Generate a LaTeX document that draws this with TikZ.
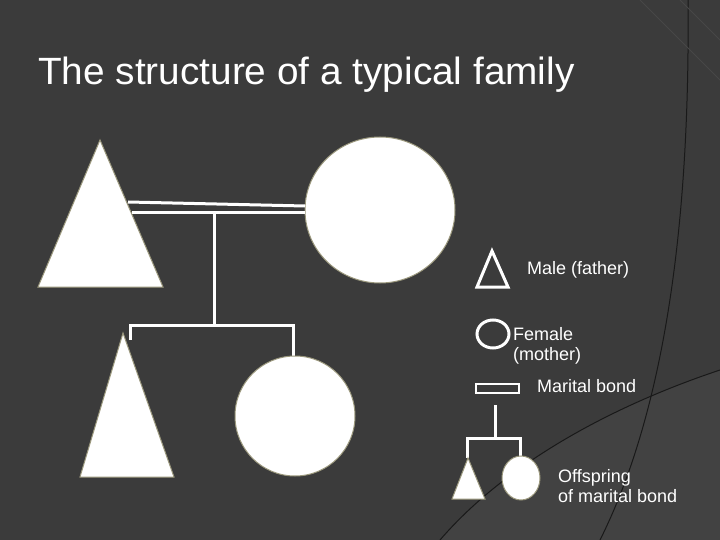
\documentclass[tikz,border=0pt]{standalone}
\usepackage{fontspec}
\setmainfont{Liberation Sans}
\usetikzlibrary{shapes.geometric}
\begin{document}
\begin{tikzpicture}[x=1pt,y=-1pt,
  shp/.style={fill=white,draw=black!35!yellow!30!gray,line width=1pt},
  wline/.style={draw=white,line width=3pt},
  lab/.style={text=white,font=\fontsize{18}{20}\selectfont,anchor=west,inner sep=0pt,align=left}]
\fill[black!77] (0,0) rectangle (720,540);
\useasboundingbox (0,0) rectangle (720,540);
% decorative background arcs
\fill[black!74] (720,370) .. controls (600,410) and (500,470) .. (440,540) -- (720,540) -- cycle;
\draw[black!90,line width=1pt] (688,0) .. controls (690,200) and (670,400) .. (600,540);
\draw[black!90,line width=1pt] (720,370) .. controls (600,410) and (500,470) .. (440,540);
\draw[black!72,line width=1pt] (640,0) -- (720,80);
\draw[black!72,line width=1pt] (680,0) -- (720,40);
% title
\node[text=white,anchor=base west,inner sep=0pt,font=\fontsize{38}{40}\selectfont] (title) at (38,85) {\scalebox{1.02}[1]{The structure of a typical family}};
% parents
\path[shp] (100,140) -- (163,287) -- (38,287) -- cycle;
\node[shp,ellipse,minimum width=150pt,minimum height=146pt,inner sep=0pt] (mother) at (380,210) {};
% marital bond
\coordinate (b1) at (128,202); \coordinate (b2) at (305,206);
\coordinate (b3) at (132,213); \coordinate (b4) at (305,213);
\draw[wline] (b1) -- (b2); \draw[wline] (b3) -- (b4);
\coordinate (m) at (214,213); \coordinate (j) at (214,325);
\coordinate (jl) at (130,325); \coordinate (jr) at (293,325);
\draw[wline] (m) -- (j);
\draw[wline] (130,340) -- (jl) -- (jr) -- (293,356);
% children
\path[shp] (123,333) -- (174,477) -- (80,477) -- cycle;
\node[shp,ellipse,minimum width=120pt,minimum height=120pt,inner sep=0pt] (daughter) at (295,416) {};
% legend
\draw[white,line width=3pt,line join=miter] (492,251) -- (508,287) -- (477,287) -- cycle;
\node[lab] (lm) at (527,270) {Male (father)};
\draw[white,line width=3pt] (493,334) ellipse (16 and 14);
\node[lab] (lf) at (513,346) {Female\\(mother)};
\draw[white,line width=2.5pt] (476,384) rectangle (519,393);
\node[lab] (lb) at (537,386) {Marital bond};
\coordinate (o1) at (495,405); \coordinate (o2) at (495,438);
\draw[wline] (o1) -- (o2);
\draw[wline] (467,458) -- (467,438) -- (520,438) -- (520,458);
\path[shp] (468,458) -- (485,499) -- (452,499) -- cycle;
\node[shp,ellipse,minimum width=38pt,minimum height=44pt,inner sep=0pt] (oc) at (521,478) {};
\node[lab] (lo) at (558,486) {Offspring\\of marital bond};
\end{tikzpicture}
\end{document}
